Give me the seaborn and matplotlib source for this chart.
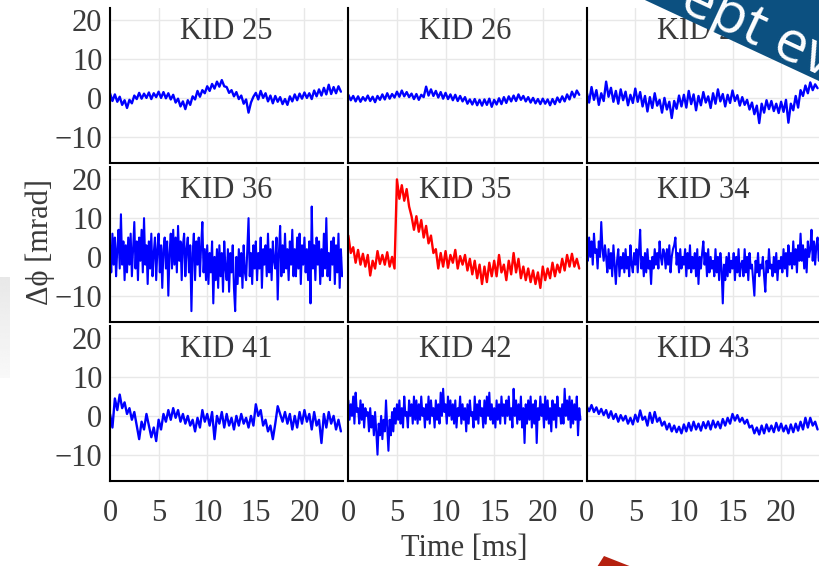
import numpy as np
import pandas as pd
import matplotlib
matplotlib.use("Agg")
import matplotlib.pyplot as plt
import seaborn as sns
from matplotlib.patches import Polygon

# sampling times [ms]: 0.25 ms step (quiet traces), 0.125 ms step (noisy traces)
time_ms = np.arange(96) * 0.25
time_ms_fine = np.arange(192) * 0.125

kid25 = [1.2, -0.8, 0.9, -1.0, 0.3, -1.8, -0.6, -2.6, -0.5, -1.4, 0.6, -0.3,
         1.3, -0.2, 1.1, 0.0, 1.4, -0.3, 1.2, 0.2, 1.6, 0.0, 1.5, -0.1,
         1.2, -0.4, 0.8, -1.2, -0.2, -2.2, -0.9, -2.9, -0.6, -1.8, 0.4, -0.4,
         1.8, 0.3, 2.0, 1.2, 3.0, 1.8, 3.6, 2.4, 4.2, 2.9, 4.6, 3.0,
         2.8, 1.3, 2.0, 0.4, 1.5, -0.3, 0.6, -1.5, -0.4, -3.8, -1.2, 0.3,
         1.3, -0.4, 1.8, 0.0, 1.2, -0.9, 0.6, -1.4, 0.5, -1.0, 0.2, -1.6,
         -0.3, -1.8, 0.4, -0.9, 0.9, -0.6, 1.1, -0.2, 1.4, 0.0, 1.2, -0.3,
         1.9, 0.4, 2.2, 0.6, 2.6, 0.9, 3.4, 1.0, 2.8, 1.2, 3.0, 1.6]
kid26 = [0.8, -0.6, 0.5, -0.9, 0.4, -1.0, 0.2, -0.7, 0.6, -0.8, 0.3, -1.1,
         0.5, -0.5, 0.9, -0.4, 1.2, -0.2, 1.0, 0.1, 1.6, 0.3, 1.9, 0.4,
         1.5, 0.2, 1.1, -0.3, 1.0, -0.5, 0.8, 0.2, 2.9, 0.6, 2.2, 0.5,
         1.8, 0.1, 1.5, -0.2, 1.3, -0.3, 0.9, -0.6, 0.8, -0.8, 0.5, -0.9,
         0.2, -1.5, -0.4, -1.7, -0.3, -1.9, -0.5, -2.0, -0.4, -1.8, -0.2, -2.3,
         -0.5, -1.7, -0.1, -1.6, 0.2, -1.3, 0.4, -0.9, 0.6, -0.8, 0.9, -0.5,
         0.5, -0.9, 0.2, -1.2, 0.0, -1.4, -0.3, -1.6, -0.2, -1.5, -0.4, -1.9,
         -0.3, -1.6, 0.1, -1.1, 0.4, -0.9, 0.9, -0.4, 1.6, 0.2, 1.9, 0.8]
kid27 = [1.5, -1.2, 2.8, -0.5, 2.0, -1.8, 1.2, -0.8, 4.2, 0.3, 2.6, -1.0,
         1.8, -1.5, 2.2, -0.6, 1.6, -1.9, 0.8, -1.3, 2.4, -1.0, 1.5, -2.2,
         0.5, -3.5, 0.2, -2.6, 1.2, -2.0, -0.5, -3.8, 0.0, -3.0, -1.0, -5.2,
         -0.8, -2.8, 0.6, -2.2, 0.8, -2.5, 1.8, -1.6, 0.9, -3.2, 0.5, -1.9,
         1.5, -1.2, 0.4, -2.6, 1.2, -1.5, 2.2, -0.9, 1.0, -2.2, 0.8, -1.3,
         1.9, -0.8, 0.7, -2.0, 0.2, -1.8, -0.5, -3.0, -1.2, -4.2, -2.0, -6.5,
         -1.5, -3.8, -0.6, -2.9, -0.8, -3.4, -1.5, -3.9, -1.0, -3.6, -0.5, -6.4,
         -1.5, -3.2, 0.5, -2.5, 2.0, 0.5, 3.2, 1.2, 4.0, 2.0, 3.5, 2.5]
kid36 = [3, -4, 6, -2, 5, -5, 2, 7,
         -3, 11, -2, 4, -6, 3, -4, 5,
         -2, 6, -5, 2, 9, -3, 4, -6,
         5, -1, 7, -4, 10, -2, 3, -7,
         4, -3, 6, -5, 1, 5, -6, 2,
         6, -4, 3, -8, 2, 5, -3, 4,
         -10, 1, 6, -3, 7, -2, 5, -4,
         8, -1, 4, -6, 3, 6, -5, 2,
         5, -4, 3, -14, 1, 6, -6, 4,
         -2, 5, -5, 3, 9, -4, 2, -6,
         3, -7, 1, -4, 4, -12, 0, -6,
         2, -8, 3, -5, 1, -9, 4, -3,
         -6, 2, -9, 1, -4, 3, -8, -14,
         0, -7, 2, -5, 1, -8, 3, -4,
         -6, 2, 10, -5, 1, -7, 3, -3,
         4, -6, 1, -3, 5, -8, 2, -2,
         3, -5, 6, -4, 2, -6, 4, -1,
         -3, 5, -11, 1, 8, -5, 3, -4,
         6, -3, 2, -6, 4, -2, 7, -5,
         2, -5, 5, -3, 6, -7, 3, -2,
         5, -4, 2, -6, 4, -12, 13, -3,
         3, -6, 5, -2, 4, -7, 2, -5,
         6, -3, 10, -5, 1, -6, 4, -2,
         5, -7, 3, -4, 6, -8, 2, -5]
kid35 = [5.5, 1.0, 2.5, -1.5, 1.8, -2.0, 0.8, -2.5, 0.5, -4.8, -1.0, -3.0,
         1.5, -1.8, 0.5, -2.0, 1.2, -2.5, 0.0, -3.0, 20.0, 15.0, 18.5, 14.5,
         17.5, 13.0, 10.5, 7.0, 10.5, 6.5, 9.5, 5.0, 8.0, 3.5, 5.5, 1.0,
         2.0, -3.0, 1.0, -2.5, 1.5, -2.8, 0.5, -1.5, 1.8, -3.0, 0.2, -2.0,
         0.5, -3.5, -0.5, -4.5, -1.0, -5.5, -2.0, -7.0, -2.5, -6.5, -1.5, -5.0,
         -1.0, -5.0, 0.5, -4.0, -2.0, -6.0, -1.0, -4.5, 1.0, -4.0, -0.5, -5.5,
         -2.5, -6.0, -3.0, -6.5, -3.5, -7.0, -4.0, -8.0, -2.5, -6.0, -3.0, -5.5,
         -1.5, -5.0, -2.0, -4.0, -0.5, -3.5, 0.5, -2.5, 0.8, -2.5, -0.5, -3.0]
kid34 = [3, -1, 5, 0, 4, -2, 6, 1,
         2, -3, 4, 0, 9, 2, -1, 3,
         0, -4, 2, -3, 1, -5, 3, -2,
         -7, -1, 2, -5, 0, -3, 1, -4,
         2, -3, 0, -5, 3, -2, -4, 1,
         -2, 2, -4, 1, 7, -3, 0, -5,
         1, -4, 2, -3, -1, -7, 0, -3,
         2, -2, 1, -3, 4, 0, -2, 2,
         1, -3, 2, -2, 3, -4, 0, 2,
         3, 5, -2, 1, -4, 2, -3, 0,
         -2, 2, -5, 1, -3, 3, -4, 0,
         -3, 1, -5, 2, -7, 0, -3, 1,
         4, -2, 1, -5, 2, -4, 0, -3,
         -1, -5, 2, -4, 0, -6, 1, -3,
         -12, -2, -6, 0, -5, 1, -4, -1,
         -3, 1, -6, 0, -4, 2, -5, -2,
         -1, -5, 2, -4, 0, -6, 1, -3,
         -2, -6, -10, -1, -4, 1, -5, -2,
         -3, 0, -5, -9, -1, -4, 2, -3,
         -2, -5, 0, -4, 1, -6, -1, -3,
         0, -4, 2, -3, 1, -5, 3, -2,
         1, -3, 4, -2, 2, -4, 3, -1,
         6, -1, 3, -3, 2, -4, 4, 0,
         2, 7, -1, 4, -2, 3, 5, -1]
kid41 = [0.5, -3.0, 4.5, 1.5, 5.5, 2.0, 3.5, 0.5, 2.0, -1.0, 1.0, -2.5,
         -6.0, -1.5, -3.5, 0.5, -2.5, -5.5, -3.0, -6.5, -1.0, -3.5, 0.5, -1.5,
         1.5, -1.0, 2.0, -0.5, 1.5, -1.5, 0.5, -2.0, 0.0, -2.5, -1.0, -4.0,
         -0.5, -3.0, 1.5, -1.5, 0.5, -2.5, 1.0, -6.0, 0.0, -2.0, 1.0, -3.0,
         0.5, -2.5, -0.5, -3.5, 0.0, -2.5, 0.5, -2.0, -0.5, -3.0, 0.0, -2.5,
         3.0, 0.0, 1.5, -2.5, -1.0, -4.0, -2.5, -6.0, -2.0, 2.5, 0.5, -1.5,
         1.0, -2.0, 0.5, -3.5, 0.0, -3.0, 1.0, -2.0, 1.5, -1.5, 0.5, -3.5,
         1.0, -2.5, -1.0, -7.0, 0.5, -3.0, 1.0, -2.0, 0.0, -3.5, -1.0, -4.0]
kid42 = [4, -1, 3, 0, 5, -2, 6, 1,
         2, -2, 4, -1, 3, -3, 2, 0,
         1, -4, 2, -3, 0, -5, 1, -4,
         -10, -2, -5, 0, -6, -1, -4, 4,
         -3, -9, -1, -5, 1, -4, 2, -2,
         3, -1, 4, -2, 2, -3, 5, 0,
         1, -3, 4, 0, 3, -2, 5, -1,
         4, -2, 3, -1, 5, 0, 2, -3,
         3, -1, 5, -2, 4, 0, 2, -3,
         4, -1, 3, -2, 6, 0, 7, 1,
         3, -2, 5, 0, 4, -1, 3, -2,
         4, -3, 2, 0, 5, -2, 3, -1,
         2, -4, 3, -2, 4, 0, 1, -3,
         5, -1, 3, -2, 4, 0, 2, -3,
         4, -2, 5, 0, 6, -1, 3, -2,
         2, -3, 4, -1, 3, -2, 5, 0,
         3, -2, 4, 0, 5, -1, 2, -3,
         7, 0, 4, -2, 3, -1, 5, -3,
         2, -7, 3, -2, 4, -1, 5, -3,
         3, -2, 4, -7, 2, -1, 5, 0,
         3, -3, 5, -1, 4, -2, 2, -4,
         4, -1, 3, -3, 5, 0, 2, -2,
         3, -2, 7, 0, 4, -1, 5, -3,
         4, -2, 3, -1, 5, -5, 2, -1]
kid43 = [2.5, 1.2, 2.8, 1.0, 2.2, 0.5, 1.8, 0.2, 1.5, -0.5, 1.2, -0.8,
         0.5, -1.5, 0.2, -1.2, 0.0, -2.0, -0.5, -2.2, 0.3, -1.5, 1.4, -1.0,
         -0.2, -2.5, 0.8, -1.8, 1.0, -1.5, -0.5, -2.5, -1.5, -3.5, -2.0, -4.0,
         -2.5, -4.2, -2.8, -4.5, -2.2, -4.0, -1.8, -3.8, -1.5, -3.5, -2.0, -3.8,
         -1.6, -3.2, -1.4, -3.5, -1.2, -3.0, -1.5, -3.2, -0.8, -2.5, -0.5, -2.0,
         0.5, -1.2, 0.2, -1.5, -0.5, -2.0, -1.0, -3.0, -2.5, -4.5, -3.0, -4.8,
         -2.5, -4.5, -2.2, -4.0, -2.5, -4.2, -1.8, -3.8, -2.0, -4.0, -2.5, -4.5,
         -2.2, -4.2, -2.0, -3.8, -1.5, -3.5, -0.5, -3.0, -0.5, -2.5, -1.5, -3.5]

kid_labels = ["KID 25", "KID 26", "KID 27",
              "KID 36", "KID 35", "KID 34",
              "KID 41", "KID 42", "KID 43"]
kid_series = [kid25, kid26, kid27, kid36, kid35, kid34, kid41, kid42, kid43]
kid_colors = ["#0000ff", "#0000ff", "#0000ff",
              "#0000ff", "#ff0000", "#0000ff",
              "#0000ff", "#0000ff", "#0000ff"]
x_ticks = [0, 5, 10, 15, 20]
y_ticks = [-10, 0, 10, 20]

sns.set_theme(style="white")
plt.rcParams["font.family"] = ["Liberation Serif", "DejaVu Serif"]
plt.rcParams["axes.unicode_minus"] = True

W, H = 820, 566
fig, axes = plt.subplots(3, 3, figsize=(W / 100, H / 100), dpi=100,
                         sharex=True, sharey=True)
fig.subplots_adjust(left=110 / W, right=1.0, top=1 - 8 / H, bottom=1 - 481 / H,
                    wspace=5 / 233, hspace=4 / 155)

text_col = "#3a3a3a"
for ax, lab, vals, col in zip(axes.flat, kid_labels, kid_series, kid_colors):
    t = time_ms if len(vals) == len(time_ms) else time_ms_fine
    lw = 1.7 if len(vals) == len(time_ms) else 1.5
    df = pd.DataFrame({"t": t, "v": vals})
    sns.lineplot(data=df, x="t", y="v", ax=ax, color=col, lw=lw)
    ax.set_xlim(0, 24)
    ax.set_ylim(-16.8, 23.2)
    ax.set_xticks(x_ticks)
    ax.set_yticks(y_ticks)
    ax.grid(True, color="#e8e8e8", lw=1.0)
    ax.set_axisbelow(True)
    for s in ["top", "right"]:
        ax.spines[s].set_visible(False)
    for s in ["left", "bottom"]:
        ax.spines[s].set_color("black")
        ax.spines[s].set_linewidth(1.5)
    ax.tick_params(direction="in", length=5, width=1, color="black",
                   labelsize=22, labelcolor=text_col)
    ax.tick_params(axis="x", pad=13)
    ax.tick_params(axis="y", pad=5.5)
    ax.set_xlabel("")
    ax.set_ylabel("")
    ax.text(0.5, 0.80, lab, transform=ax.transAxes, ha="center", va="baseline",
            fontsize=22, color=text_col)

fig.text(464 / W, 1 - 548 / H, "Time [ms]", ha="center", va="center",
         fontsize=22, color=text_col)
fig.text(40 / W, 1 - 242 / H, "\u0394\u03d5 [mrad]", rotation=90, ha="center",
         va="center", fontsize=22, color=text_col)


def P(x, y):
    return (x / W, 1 - y / H)


# slide decorations overlapping the chart
banner = Polygon([P(632, -6), P(892, 115), P(943, 6), P(683, -115)],
                 closed=True, transform=fig.transFigure, facecolor="#0c5080",
                 edgecolor="none", zorder=10)
fig.patches.append(banner)
fig.text(766 / W, 1 - 50 / H, "ept eve", rotation=-25, rotation_mode="anchor",
         ha="center", va="baseline", fontsize=41, color="white",
         family=["Open Sans", "DejaVu Sans"], zorder=11)

red = Polygon([P(597, 567), P(604, 556), P(632, 567)], closed=True,
              transform=fig.transFigure, facecolor="#b5200f", edgecolor="none",
              zorder=10)
fig.patches.append(red)

gax = fig.add_axes([0, 1 - 378 / H, 10 / W, 101 / H])
grad = np.linspace(0.91, 0.975, 50).reshape(-1, 1)
gax.imshow(grad, cmap="gray", vmin=0, vmax=1, aspect="auto")
gax.axis("off")

fig.savefig("out.png", dpi=100)
